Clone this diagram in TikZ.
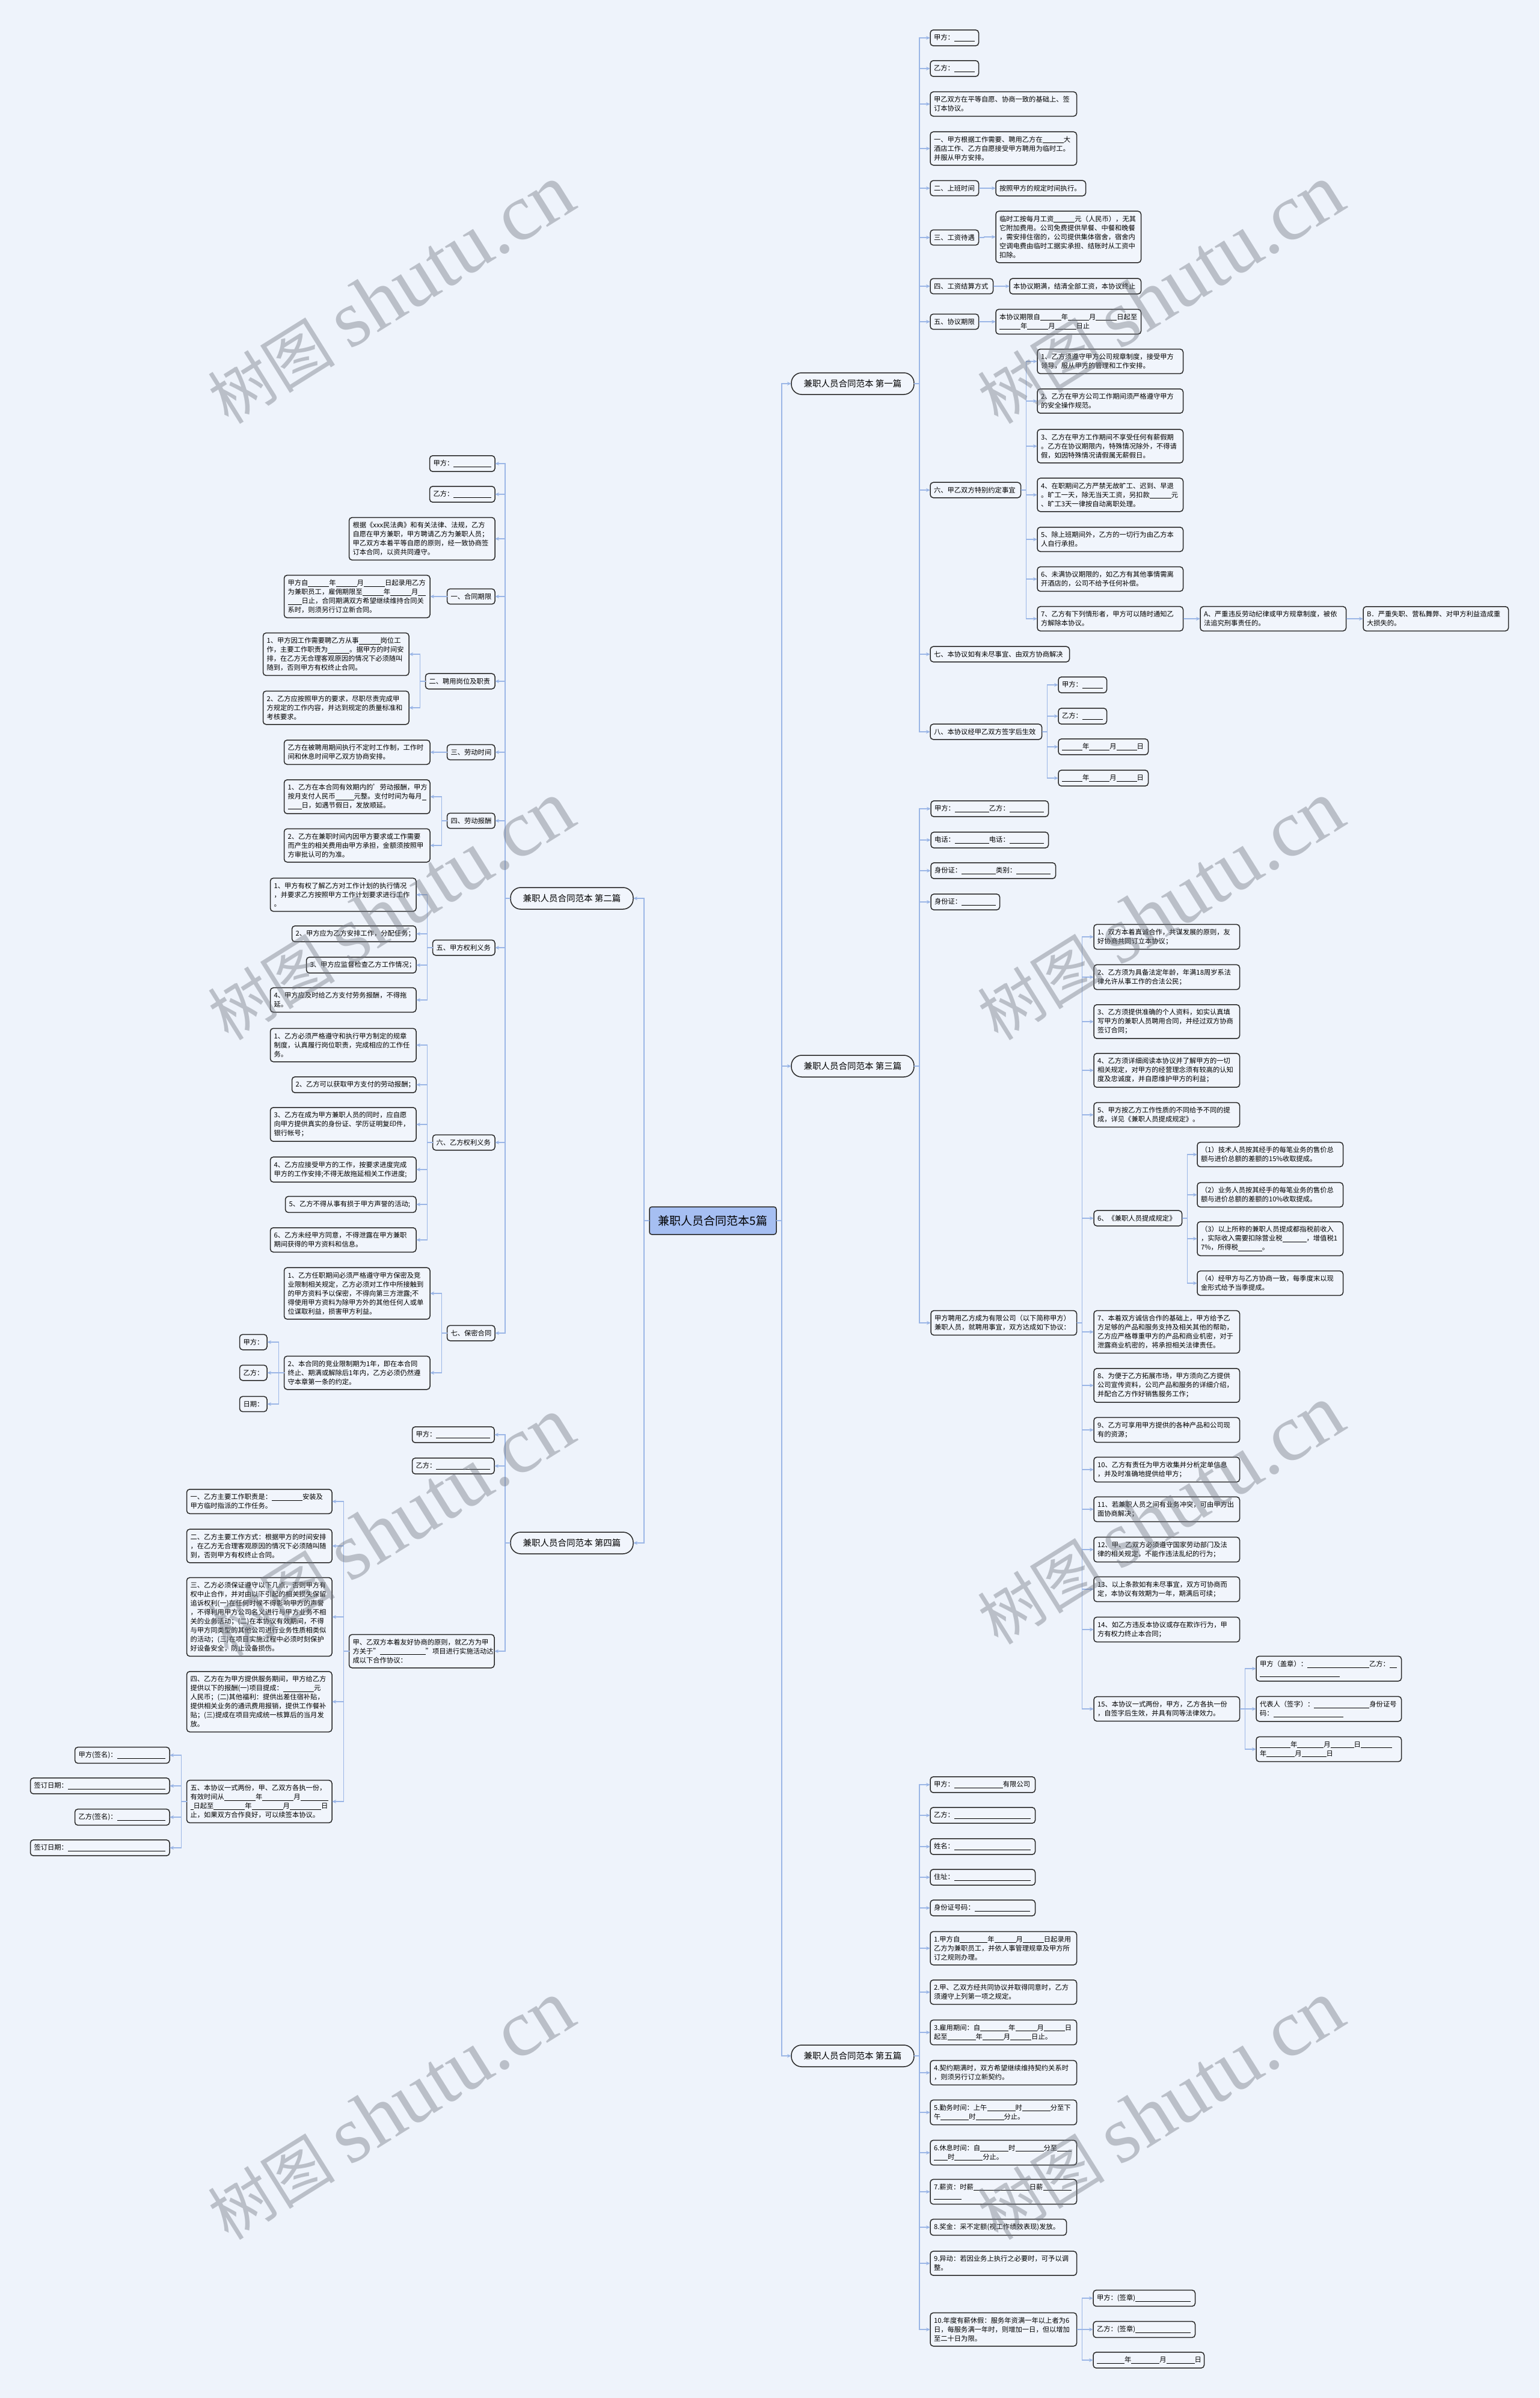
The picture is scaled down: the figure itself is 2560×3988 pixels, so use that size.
\documentclass[tikz,border=0pt]{standalone}
\usepackage{fontspec}
\setmainfont{Noto Sans CJK SC}
\newfontfamily\wmserif{Liberation Serif}
\usetikzlibrary{arrows.meta}
\definecolor{bgc}{RGB}{238,243,251}
\definecolor{boxfill}{RGB}{241,245,252}
\definecolor{boxline}{RGB}{40,40,40}
\definecolor{edgec}{RGB}{155,182,230}
\definecolor{centerc}{RGB}{166,191,242}
\definecolor{wmc}{RGB}{110,115,125}
\newcommand\bl[1]{\rule[-1.8pt]{#1pt}{0.75pt}}
\newcommand\fs{\fontsize{11.3}{15}\selectfont}
\tikzset{
 leaf/.style={draw=boxline, line width=1.5pt, rounded corners=5pt, fill=boxfill, align=left, inner xsep=6pt, inner ysep=7.5pt, outer sep=0pt, font=\fs},
 br/.style={draw=boxline, line width=1.5pt, rounded corners=17pt, fill=boxfill, minimum width=204pt, minimum height=36pt, outer sep=0pt, font=\fontsize{14.5}{17}\selectfont},
 edge/.style={draw=edgec, line width=1.6pt, -{Stealth[length=7pt,width=6pt]}},
 wm/.style={text=wmc, opacity=0.4, rotate=32},
}
\newcommand\RN[5]{\node[leaf,anchor=west,text width=#4pt] (#1) at (#2,#3) {#5};}
\newcommand\LN[5]{\node[leaf,anchor=east,text width=#4pt] (#1) at (#2,#3) {#5};}
\newcommand\ER[2]{\draw[edge] (#1.east) -- ++(9,0) |- (#2.west);}
\newcommand\EL[2]{\draw[edge] (#1.west) -- ++(-9,0) |- (#2.east);}
\begin{document}
\begin{tikzpicture}[x=1pt,y=-1pt]
\useasboundingbox (0,0) rectangle (2560,3988);
\fill[bgc] (0,0) rectangle (2560,3988);

% center and branches
\node[draw=boxline, fill=centerc, line width=1.5pt, rounded corners=4pt, minimum width=211pt, minimum height=46pt, outer sep=0pt, font=\fontsize{19}{22}\selectfont] (c) at (1185.5,2030) {兼职人员合同范本5篇};
\node[br] (b1) at (1418,638) {兼职人员合同范本 第一篇};
\node[br] (b3) at (1418,1773) {兼职人员合同范本 第三篇};
\node[br] (b5) at (1418,3419) {兼职人员合同范本 第五篇};
\node[br] (b2) at (951,1494) {兼职人员合同范本 第二篇};
\node[br] (b4) at (951,2566) {兼职人员合同范本 第四篇};
\ER{c}{b1}\ER{c}{b3}\ER{c}{b5}\EL{c}{b2}\EL{c}{b4}

% ===== branch 1 =====
\RN{a1}{1547}{63}{68.5}{甲方：\bl{34}}
\RN{a2}{1547}{114}{68.5}{乙方：\bl{34}}
\RN{a3}{1547}{173}{231.5}{甲乙双方在平等自愿、协商一致的基础上、签\\订本协议。}
\RN{a4}{1547}{247}{231.5}{一、甲方根据工作需要、聘用乙方在\bl{35}大\\酒店工作、乙方自愿接受甲方聘用为临时工。\\并服从甲方安排。}
\RN{a5}{1547}{313}{68.5}{二、上班时间}
\RN{a5a}{1656}{313}{137.5}{按照甲方的规定时间执行。}
\RN{a6}{1547}{395}{68.5}{三、工资待遇}
\RN{a6a}{1656}{394}{229.5}{临时工按每月工资\bl{35}元（人民币），无其\\它附加费用。公司免费提供早餐、中餐和晚餐\\，需安排住宿的，公司提供集体宿舍，宿舍内\\空调电费由临时工据实承担、结账时从工资中\\扣除。}
\RN{a7}{1547}{476}{92.5}{四、工资结算方式}
\RN{a7a}{1679}{476}{206.5}{本协议期满，结清全部工资，本协议终止}
\RN{a8}{1547}{535}{68.5}{五、协议期限}
\RN{a8a}{1656}{535}{229.5}{本协议期限自\bl{35}年\bl{35}月\bl{35}日起至\\\bl{35}年\bl{35}月\bl{35}日止}
\RN{a9}{1547}{815}{138.5}{六、甲乙双方特别约定事宜}
\RN{a91}{1725}{601}{230.5}{1、乙方须遵守甲方公司规章制度，接受甲方\\领导，服从甲方的管理和工作安排。}
\RN{a92}{1725}{667}{230.5}{2、乙方在甲方公司工作期间须严格遵守甲方\\的安全操作规范。}
\RN{a93}{1725}{742}{230.5}{3、乙方在甲方工作期间不享受任何有薪假期\\。乙方在协议期限内，特殊情况除外，不得请\\假，如因特殊情况请假属无薪假日。}
\RN{a94}{1725}{823}{230.5}{4、在职期间乙方严禁无故旷工、迟到、早退\\。旷工一天，除无当天工资，另扣款\bl{36}元\\、旷工3天一律按自动离职处理。}
\RN{a95}{1725}{897}{230.5}{5、除上班期间外，乙方的一切行为由乙方本\\人自行承担。}
\RN{a96}{1725}{963}{230.5}{6、未满协议期限的，如乙方有其他事情需离\\开酒店的，公司不给予任何补偿。}
\RN{a97}{1725}{1029}{230.5}{7、乙方有下列情形者，甲方可以随时通知乙\\方解除本协议。}
\RN{a97a}{1996}{1029}{230.5}{A、严重违反劳动纪律或甲方规章制度，被依\\法追究刑事责任的。}
\RN{a97b}{2267}{1029}{229.5}{B．严重失职、营私舞弊、对甲方利益造成重\\大损失的。}
\RN{a10}{1547}{1088}{219.5}{七、本协议如有未尽事宜、由双方协商解决}
\RN{a11}{1547}{1217}{173.5}{八、本协议经甲乙双方签字后生效}
\RN{a111}{1760}{1139}{68.5}{甲方：\bl{34}}
\RN{a112}{1760}{1191}{68.5}{乙方：\bl{34}}
\RN{a113}{1760}{1242}{137.5}{\bl{34}年\bl{34}月\bl{34}日}
\RN{a114}{1760}{1294}{137.5}{\bl{34}年\bl{34}月\bl{34}日}
\foreach \n in {a1,a2,a3,a4,a5,a6,a7,a8,a9,a10,a11} {\ER{b1}{\n}}
\ER{a5}{a5a}\ER{a6}{a6a}\ER{a7}{a7a}\ER{a8}{a8a}
\foreach \n in {a91,a92,a93,a94,a95,a96,a97} {\ER{a9}{\n}}
\ER{a97}{a97a}\ER{a97a}{a97b}
\foreach \n in {a111,a112,a113,a114} {\ER{a11}{\n}}

% ===== branch 3 =====
\RN{c1}{1548}{1345}{183.5}{甲方：\bl{57}乙方：\bl{57}}
\RN{c2}{1548}{1397}{183.5}{电话：\bl{57}电话：\bl{57}}
\RN{c3}{1548}{1448}{195.5}{身份证：\bl{57}类别：\bl{57}}
\RN{c4}{1548}{1500}{102.5}{身份证：\bl{57}}
\RN{c5}{1548}{2200}{230.5}{甲方聘用乙方成为有限公司（以下简称甲方）\\兼职人员，就聘用事宜，双方达成如下协议：}
\RN{c51}{1819}{1558}{230.5}{1、双方本着真诚合作，共谋发展的原则，友\\好协商共同订立本协议；}
\RN{c52}{1819}{1625}{230.5}{2、乙方须为具备法定年龄，年满18周岁系法\\律允许从事工作的合法公民；}
\RN{c53}{1819}{1699}{230.5}{3、乙方须提供准确的个人资料，如实认真填\\写甲方的兼职人员聘用合同，并经过双方协商\\签订合同；}
\RN{c54}{1819}{1780}{230.5}{4、乙方须详细阅读本协议并了解甲方的一切\\相关规定，对甲方的经营理念须有较高的认知\\度及忠诚度，并自愿维护甲方的利益；}
\RN{c55}{1819}{1854}{230.5}{5、甲方按乙方工作性质的不同给予不同的提\\成，详见《兼职人员提成规定》。}
\RN{c56}{1819}{2026}{134.5}{6、《兼职人员提成规定》}
\RN{c561}{1991}{1920}{230.5}{（1）技术人员按其经手的每笔业务的售价总\\额与进价总额的差额的15\%收取提成。}
\RN{c562}{1991}{1987}{230.5}{（2）业务人员按其经手的每笔业务的售价总\\额与进价总额的差额的10\%收取提成。}
\RN{c563}{1991}{2060}{230.5}{（3）以上所称的兼职人员提成都指税前收入\\，实际收入需要扣除营业税\bl{40}，增值税1\\7\%，所得税\bl{40}。}
\RN{c564}{1991}{2134}{230.5}{（4）经甲方与乙方协商一致，每季度末以现\\金形式给予当季提成。}
\RN{c57}{1819}{2215}{230.5}{7、本着双方诚信合作的基础上，甲方给予乙\\方足够的产品和服务支持及相关其他的帮助，\\乙方应严格尊重甲方的产品和商业机密，对于\\泄露商业机密的，将承担相关法律责任。}
\RN{c58}{1819}{2304}{230.5}{8、为便于乙方拓展市场，甲方须向乙方提供\\公司宣传资料，公司产品和服务的详细介绍，\\并配合乙方作好销售服务工作；}
\RN{c59}{1819}{2378}{230.5}{9、乙方可享用甲方提供的各种产品和公司现\\有的资源；}
\RN{c510}{1819}{2444}{230.5}{10、乙方有责任为甲方收集并分析定单信息\\，并及时准确地提供给甲方；}
\RN{c511}{1819}{2510}{230.5}{11、若兼职人员之间有业务冲突，可由甲方出\\面协商解决；}
\RN{c512}{1819}{2577}{230.5}{12、甲、乙双方必须遵守国家劳动部门及法\\律的相关规定，不能作违法乱纪的行为；}
\RN{c513}{1819}{2643}{230.5}{13、以上条款如有未尽事宜，双方可协商而\\定，本协议有效期为一年，期满后可续；}
\RN{c514}{1819}{2710}{230.5}{14、如乙方违反本协议或存在欺诈行为，甲\\方有权力终止本合同；}
\RN{c515}{1819}{2842}{230.5}{15、本协议一式两份，甲方，乙方各执一份\\，自签字后生效，并具有同等法律效力。}
\RN{c5151}{2089}{2775}{229.5}{甲方（盖章）：\bl{103}乙方：\bl{12}\\\bl{133}}
\RN{c5152}{2089}{2842}{229.5}{代表人（签字）：\bl{92}身份证号\\码：\bl{116}}
\RN{c5153}{2089}{2909}{229.5}{\bl{51}年\bl{44}月\bl{39}日\bl{52}\\年\bl{47}月\bl{41}日}
\foreach \n in {c1,c2,c3,c4,c5} {\ER{b3}{\n}}
\foreach \n in {c51,c52,c53,c54,c55,c56,c57,c58,c59,c510,c511,c512,c513,c514,c515} {\ER{c5}{\n}}
\foreach \n in {c561,c562,c563,c564} {\ER{c56}{\n}}
\foreach \n in {c5151,c5152,c5153} {\ER{c515}{\n}}

% ===== branch 5 =====
\RN{e1}{1547}{2968}{162.5}{甲方：\bl{81}有限公司}
\RN{e2}{1547}{3019}{162.5}{乙方：\bl{127}}
\RN{e3}{1547}{3071}{162.5}{姓名：\bl{127}}
\RN{e4}{1547}{3122}{162.5}{住址：\bl{127}}
\RN{e5}{1547}{3173}{162.5}{身份证号码：\bl{92}}
\RN{e6}{1547}{3240}{231.5}{1.甲方自\bl{46}年\bl{36}月\bl{35}日起录用\\乙方为兼职员工，并依人事管理规章及甲方所\\订之规则办理。}
\RN{e7}{1547}{3313}{231.5}{2.甲、乙双方经共同协议并取得同意时，乙方\\须遵守上列第一项之规定。}
\RN{e8}{1547}{3380}{231.5}{3.雇用期间：自\bl{47}年\bl{36}月\bl{35}日\\起至\bl{47}年\bl{35}月\bl{35}日止。}
\RN{e9}{1547}{3447}{231.5}{4.契约期满时，双方希望继续维持契约关系时\\，则须另行订立新契约。}
\RN{e10}{1547}{3513}{231.5}{5.勤务时间：上午\bl{47}时\bl{47}分至下\\午\bl{47}时\bl{47}分止。}
\RN{e11}{1547}{3580}{231.5}{6.休息时间：自\bl{47}时\bl{47}分至\bl{24}\\\bl{23}时\bl{47}分止。}
\RN{e12}{1547}{3645}{231.5}{7.薪资：时薪\bl{93}日薪\bl{47}\\\bl{46}}
\RN{e13}{1547}{3704}{214.5}{8.奖金：采不定额(视工作绩效表现)发放。}
\RN{e14}{1547}{3764}{231.5}{9.异动：若因业务上执行之必要时，可予以调\\整。}
\RN{e15}{1547}{3874}{231.5}{10.年度有薪休假：服务年资满一年以上者为6\\日，每服务满一年时，则增加一日，但以增加\\至二十日为限。}
\RN{e151}{1818}{3822}{157.5}{甲方：(签章)\bl{92}}
\RN{e152}{1818}{3874}{157.5}{乙方：(签章)\bl{92}}
\RN{e153}{1818}{3925}{172.5}{\bl{46}年\bl{47}月\bl{47}日}
\foreach \n in {e1,e2,e3,e4,e5,e6,e7,e8,e9,e10,e11,e12,e13,e14,e15} {\ER{b5}{\n}}
\foreach \n in {e151,e152,e153} {\ER{e15}{\n}}

% ===== branch 2 =====
\LN{d1}{823}{771}{96.5}{甲方：\bl{63}}
\LN{d2}{823}{822}{96.5}{乙方：\bl{63}}
\LN{d3}{823}{896}{230.5}{根据《xxx民法典》和有关法律、法规，乙方\\自愿在甲方兼职，甲方聘请乙方为兼职人员；\\甲乙双方本着平等自愿的原则，经一致协商签\\订本合同，以资共同遵守。}
\LN{d4}{823}{992}{67.5}{一、合同期限}
\LN{d4a}{715}{992}{230.5}{甲方自\bl{35}年\bl{35}月\bl{35}日起录用乙方\\为兼职员工，雇佣期限至\bl{35}年\bl{35}月\bl{13}\\\bl{23}日止，合同期满双方希望继续维持合同关\\系时，则须另行订立新合同。}
\LN{d5}{823}{1133}{103.5}{二、聘用岗位及职责}
\LN{d51}{680}{1088}{230.5}{1、甲方因工作需要聘乙方从事\bl{36}岗位工\\作，主要工作职责为\bl{36}。据甲方的时间安\\排，在乙方无合理客观原因的情况下必须随叫\\随到，否则甲方有权终止合同。}
\LN{d52}{680}{1177}{230.5}{2、乙方应按照甲方的要求，尽职尽责完成甲\\方规定的工作内容，并达到规定的质量标准和\\考核要求。}
\LN{d6}{823}{1251}{67.5}{三、劳动时间}
\LN{d6a}{715}{1251}{230.5}{乙方在被聘用期间执行不定时工作制，工作时\\间和休息时间甲乙双方协商安排。}
\LN{d7}{823}{1365}{67.5}{四、劳动报酬}
\LN{d71}{715}{1325}{230.5}{1、乙方在本合同有效期内的'劳动报酬，甲方\\按月支付人民币\bl{31}元整。支付时间为每月\bl{7}\\\bl{23}日，如遇节假日，发放顺延。}
\LN{d72}{715}{1406}{230.5}{2、乙方在兼职时间内因甲方要求或工作需要\\而产生的相关费用由甲方承担，金额须按照甲\\方审批认可的为准。}
\LN{d8}{823}{1576}{91.5}{五、甲方权利义务}
\LN{d81}{692}{1488}{230.5}{1、甲方有权了解乙方对工作计划的执行情况\\，并要求乙方按照甲方工作计划要求进行工作\\。}
\LN{d82}{692}{1553}{194.5}{2、甲方应为乙方安排工作，分配任务；}
\LN{d83}{692}{1605}{170.5}{3、甲方应监督检查乙方工作情况；}
\LN{d84}{692}{1663}{230.5}{4、甲方应及时给乙方支付劳务报酬，不得拖\\延。}
\LN{d9}{823}{1900}{91.5}{六、乙方权利义务}
\LN{d91}{692}{1738}{230.5}{1、乙方必须严格遵守和执行甲方制定的规章\\制度，认真履行岗位职责，完成相应的工作任\\务。}
\LN{d92}{692}{1804}{194.5}{2、乙方可以获取甲方支付的劳动报酬；}
\LN{d93}{692}{1870}{230.5}{3、乙方在成为甲方兼职人员的同时，应自愿\\向甲方提供真实的身份证、学历证明复印件，\\银行帐号；}
\LN{d94}{692}{1945}{230.5}{4、乙方应接受甲方的工作，按要求进度完成\\甲方的工作安排;不得无故拖延相关工作进度;}
\LN{d95}{692}{2003}{205.5}{5、乙方不得从事有损于甲方声誉的活动;}
\LN{d96}{692}{2062}{230.5}{6、乙方未经甲方同意，不得泄露在甲方兼职\\期间获得的甲方资料和信息。}
\LN{d10}{823}{2217}{67.5}{七、保密合同}
\LN{d101}{715}{2151}{230.5}{1、乙方任职期间必须严格遵守甲方保密及竞\\业限制相关规定，乙方必须对工作中所接触到\\的甲方资料予以保密，不得向第三方泄露;不\\得使用甲方资料为除甲方外的其他任何人或单\\位谋取利益，损害甲方利益。}
\LN{d102}{715}{2283}{230.5}{2、本合同的竞业限制期为1年，即在本合同\\终止、期满或解除后1年内，乙方必须仍然遵\\守本章第一条的约定。}
\LN{d1021}{444}{2232}{33.5}{甲方：}
\LN{d1022}{444}{2283}{33.5}{乙方：}
\LN{d1023}{444}{2335}{33.5}{日期：}
\foreach \n in {d1,d2,d3,d4,d5,d6,d7,d8,d9,d10} {\EL{b2}{\n}}
\EL{d4}{d4a}\EL{d5}{d51}\EL{d5}{d52}\EL{d6}{d6a}\EL{d7}{d71}\EL{d7}{d72}
\foreach \n in {d81,d82,d83,d84} {\EL{d8}{\n}}
\foreach \n in {d91,d92,d93,d94,d95,d96} {\EL{d9}{\n}}
\EL{d10}{d101}\EL{d10}{d102}
\foreach \n in {d1021,d1022,d1023} {\EL{d102}{\n}}

% ===== branch 4 =====
\LN{f1}{822}{2386}{124.5}{甲方：\bl{90}}
\LN{f2}{822}{2438}{124.5}{乙方：\bl{90}}
\LN{f3}{822}{2746}{229.5}{甲、乙双方本着友好协商的原则，就乙方为甲\\方关于"\bl{76}"项目进行实施活动达\\成以下合作协议：}
\LN{f31}{552}{2497}{229.5}{一、乙方主要工作职责是：\bl{51}安装及\\甲方临时指派的工作任务。}
\LN{f32}{552}{2571}{229.5}{二、乙方主要工作方式：根据甲方的时间安排\\，在乙方无合理客观原因的情况下必须随叫随\\到，否则甲方有权终止合同。}
\LN{f33}{552}{2689}{229.5}{三、乙方必须保证遵守以下几点，否则甲方有\\权中止合作，并对由以下引起的相关损失保留\\追诉权利(一)在任何时候不得影响甲方的声誉\\，不得利用甲方公司名义进行与甲方业务不相\\关的业务活动；(二)在本协议有效期间，不得\\与甲方同类型的其他公司进行业务性质相类似\\的活动；(三)在项目实施过程中必须时刻保护\\好设备安全，防止设备损伤。}
\LN{f34}{552}{2830}{229.5}{四、乙方在为甲方提供服务期间，甲方给乙方\\提供以下的报酬(一)项目提成：\bl{51}元\\人民币；(二)其他福利：提供出差住宿补贴，\\提供相关业务的通讯费用报销，提供工作餐补\\贴；(三)提成在项目完成统一核算后的当月发\\放。}
\LN{f35}{552}{2996}{229.5}{五、本协议一式两份，甲、乙双方各执一份，\\有效时间从\bl{52}年\bl{52}月\bl{46}\\\bl{5}日起至\bl{52}年\bl{52}月\bl{52}日\\止，如果双方合作良好，可以续签本协议。}
\LN{f351}{282}{2919}{145.5}{甲方(签名)：\bl{80}}
\LN{f352}{282}{2970}{219.5}{签订日期：\bl{162}}
\LN{f353}{282}{3022}{145.5}{乙方(签名)：\bl{80}}
\LN{f354}{282}{3073}{219.5}{签订日期：\bl{162}}
\foreach \n in {f1,f2,f3} {\EL{b4}{\n}}
\foreach \n in {f31,f32,f33,f34,f35} {\EL{f3}{\n}}
\foreach \n in {f351,f352,f353,f354} {\EL{f35}{\n}}

% watermarks
\foreach \wx/\wy [count=\i] in {650/490,1930/490,650/1515,1930/1515,650/2540,1930/2520,650/3510,1930/3510}
  \node[wm] (wm\i) at (\wx,\wy) {\fontsize{106}{106}\selectfont 树图\hspace{25pt}{\wmserif\fontsize{134}{134}\selectfont shutu.cn}};
\end{tikzpicture}
\end{document}
